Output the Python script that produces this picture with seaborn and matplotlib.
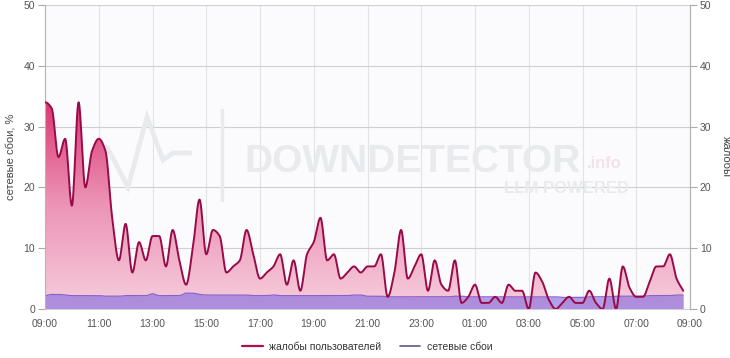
import numpy as np
import pandas as pd
import matplotlib
matplotlib.use("Agg")
import matplotlib.pyplot as plt
import seaborn as sns
from matplotlib.lines import Line2D
from matplotlib.colors import LinearSegmentedColormap

# ---------------- data (15-minute samples starting 09:00) ----------------
start_time = "09:00"
step_minutes = 15
complaints = [
    34, 33, 25, 28, 17, 34, 20, 26,
    28, 26, 15, 8, 14, 6, 11, 8,
    12, 12, 7, 13, 8, 4, 10, 18,
    9, 13, 12, 6, 7, 8, 13, 9,
    5, 6, 7, 9, 4, 8, 3, 9,
    11, 15, 8, 9, 5, 6, 7, 6,
    7, 7, 9, 2, 6, 13, 5, 7,
    9, 3, 8, 4, 3, 8, 1, 2,
    4, 1, 1, 2, 1, 4, 3, 3,
    0, 6, 4.5, 1.5, 0, 1, 2, 1,
    1, 3, 1, 0, 5, 0, 7, 3.5,
    2, 2, 4.5, 7, 7, 9, 5, 3,
]
network_failures = [
    2.2, 2.4, 2.4, 2.3, 2.2, 2.2, 2.2, 2.2,
    2.2, 2.1, 2.1, 2.1, 2.2, 2.2, 2.2, 2.2,
    2.5, 2.2, 2.2, 2.2, 2.2, 2.6, 2.6, 2.4,
    2.3, 2.3, 2.3, 2.3, 2.3, 2.3, 2.3, 2.2,
    2.2, 2.2, 2.3, 2.2, 2.2, 2.2, 2.2, 2.2,
    2.2, 2.2, 2.2, 2.2, 2.2, 2.2, 2.3, 2.3,
    2.1, 2.1, 2.1, 2.0, 2.0, 2.0, 2.0, 2.0,
    2.0, 2.0, 2.0, 2.0, 2.0, 2.1, 2.1, 2.0,
    2.0, 2.0, 2.0, 2.0, 2.0, 2.0, 2.0, 2.0,
    2.0, 2.0, 2.0, 2.0, 2.0, 1.9, 1.9, 1.9,
    1.9, 2.0, 2.0, 2.0, 2.0, 2.1, 2.1, 2.1,
    2.1, 2.1, 2.2, 2.2, 2.2, 2.2, 2.3, 2.3,
]
tick_labels = ["09:00", "11:00", "13:00", "15:00", "17:00", "19:00", "21:00",
               "23:00", "01:00", "03:00", "05:00", "07:00", "09:00"]
y_ticks = [0, 10, 20, 30, 40, 50]
series_names = ["жалобы пользователей", "сетевые сбои"]

# ---------------- helpers ----------------
def pchip(x, y, xn):
    x = np.asarray(x, float); y = np.asarray(y, float)
    h = np.diff(x); delta = np.diff(y) / h
    n = len(x); d = np.zeros(n)
    for k in range(1, n - 1):
        if delta[k - 1] * delta[k] > 0:
            w1 = 2 * h[k] + h[k - 1]; w2 = h[k] + 2 * h[k - 1]
            d[k] = (w1 + w2) / (w1 / delta[k - 1] + w2 / delta[k])
    d[0] = 0; d[-1] = delta[-1]
    idx = np.clip(np.searchsorted(x, xn) - 1, 0, n - 2)
    t = (xn - x[idx]) / h[idx]
    h00 = 2 * t**3 - 3 * t**2 + 1; h10 = t**3 - 2 * t**2 + t
    h01 = -2 * t**3 + 3 * t**2; h11 = t**3 - t**2
    return (h00 * y[idx] + h10 * h[idx] * d[idx] + h01 * y[idx + 1]
            + h11 * h[idx] * d[idx + 1])

hours = np.arange(len(complaints)) * step_minutes / 60.0
xs = np.linspace(hours[0], hours[-1], 2000)
comp_s = np.clip(pchip(hours, complaints, xs), 0, None)
net_s = pchip(hours, network_failures, xs)
df = pd.DataFrame({"h": xs, "complaints": comp_s, "network": net_s})

# ---------------- figure ----------------
sns.set_theme(style="white")
plt.rcParams["font.family"] = ["Liberation Sans", "DejaVu Sans"]

fig = plt.figure(figsize=(7.30, 3.58), dpi=100)
ax = fig.add_axes([45 / 730, 1 - 309 / 358, 645 / 730, 304 / 358])
ax.set_facecolor("#fbfbfd")
ax.set_xlim(0, 24)
ax.set_ylim(0, 50)

# grid
for xv in range(0, 25, 2):
    ax.axvline(xv, color="#e3e3e6", lw=0.8, zorder=0.2)
for yv in y_ticks[1:]:
    ax.axhline(yv, color="#cfcfd3", lw=0.8, zorder=0.2)

# watermark (decoration)
wm = "#e8eaee"
def fx(px): return px / 730
def fy(py): return 1 - py / 358
zig = [(107, 147), (128, 187), (147, 117), (163, 160), (173, 153), (190, 153)]
ax.add_line(Line2D([fx(p[0]) for p in zig], [fy(p[1]) for p in zig],
                   transform=fig.transFigure, color=wm, lw=3.4, zorder=0.3,
                   clip_on=False, solid_joinstyle="miter"))
ax.add_line(Line2D([fx(222), fx(222)], [fy(110), fy(200)], transform=fig.transFigure,
                   color=wm, lw=2.5, zorder=0.3, clip_on=False))
ax.text(fx(244), fy(172), "DOWNDETECTOR", transform=fig.transFigure, fontsize=28,
        fontweight="bold", color=wm, ha="left", va="baseline", zorder=0.3)
ax.text(fx(587), fy(168), ".info", transform=fig.transFigure, fontsize=12,
        fontweight="bold", color="#f1e2e8", ha="left", va="baseline", zorder=0.3)
ax.text(fx(629), fy(193), "LLM POWERED", transform=fig.transFigure, fontsize=12,
        fontweight="bold", color=wm, ha="right", va="baseline", zorder=0.3)

# complaints gradient area
poly = ax.fill_between(df["h"], 0, df["complaints"], color="none", lw=0, zorder=1)
cmap = LinearSegmentedColormap.from_list("pk", ["#f6cddd", "#ec93b5", "#d9336f"])
grad = np.linspace(0, 1, 256).reshape(-1, 1)
im = ax.imshow(grad, cmap=cmap, origin="lower", aspect="auto",
               extent=[0, 24, 0, 35], zorder=1, interpolation="bicubic")
im.set_clip_path(poly.get_paths()[0], transform=ax.transData)
ax.set_xlim(0, 24); ax.set_ylim(0, 50)

sns.lineplot(data=df, x="h", y="complaints", ax=ax, color="#980a48", lw=1.4,
             zorder=3, legend=False)

# network failures area
ax.fill_between(df["h"], 0, df["network"], color="#8066e0", alpha=0.6, lw=0, zorder=2)
sns.lineplot(data=df, x="h", y="network", ax=ax, color="#8a62cc", lw=0.9,
             zorder=2.5, legend=False)

# axes styling
ax.set_xticks(range(0, 25, 2))
ax.set_xticklabels(tick_labels)
ax.set_yticks(y_ticks)
ax.set_xlabel("")
ax.set_ylabel("сетевые сбои, %", fontsize=8, color="#444444", labelpad=6)
ax.tick_params(axis="both", labelsize=7.5, colors="#555555", length=5, width=0.8,
               color="#aaaaaa", pad=2)
ax.tick_params(axis="x", length=0, pad=7)
ax.spines["top"].set_visible(False)
for s in ["left", "right", "bottom"]:
    ax.spines[s].set_color("#b5b5b8")
    ax.spines[s].set_linewidth(0.8)
ax.spines["bottom"].set_color("#cfcfd3")

ax2 = ax.twinx()
ax2.set_ylim(0, 50)
ax2.set_yticks(y_ticks)
ax2.tick_params(axis="y", labelsize=7.5, colors="#555555", length=5, width=0.8,
                color="#aaaaaa", pad=2)
ax2.set_ylabel("жалобы", rotation=270, fontsize=8, color="#444444", labelpad=14)
for s in ["top", "left", "bottom"]:
    ax2.spines[s].set_visible(False)
ax2.spines["right"].set_color("#b5b5b8")
ax2.spines["right"].set_linewidth(0.8)
ax2.grid(False)

handles = [Line2D([0], [0], color="#b0104f", lw=1.6),
           Line2D([0], [0], color="#5a5a90", lw=1.2)]
fig.legend(handles, series_names, loc="center", bbox_to_anchor=(367 / 730, fy(347)),
           ncol=2, frameon=False, fontsize=7.5, handlelength=2.0, columnspacing=1.8,
           handletextpad=0.6, labelcolor="#333333")

fig.savefig("out.png", dpi=100)
